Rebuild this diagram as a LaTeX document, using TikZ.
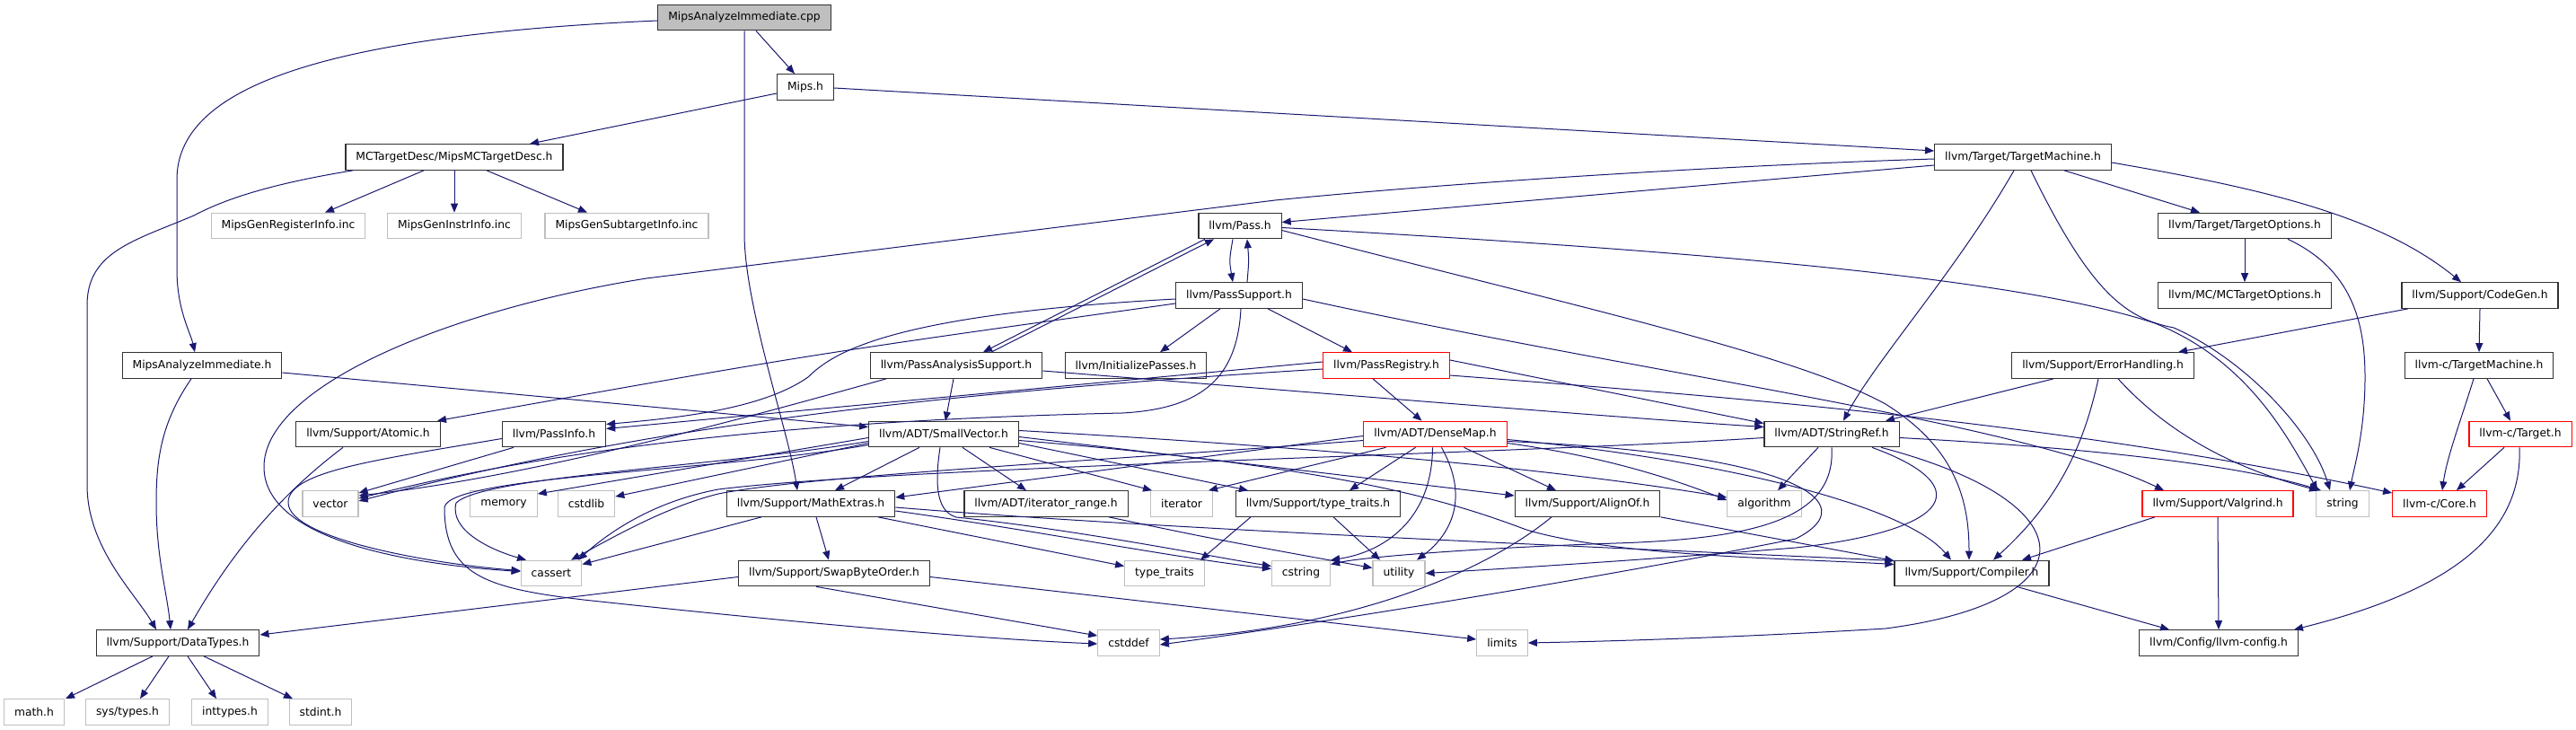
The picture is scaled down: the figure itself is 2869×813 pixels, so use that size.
\documentclass[tikz,border=0pt]{standalone}
\usepackage{fontspec}
\setmainfont{DejaVu Sans}
\usetikzlibrary{arrows.meta}
\definecolor{edgeblue}{RGB}{25,25,112}
\definecolor{grey75}{RGB}{191,191,191}
\definecolor{boxline}{RGB}{50,50,50}

\begin{document}
\begin{tikzpicture}[x=1pt, y=-1pt,
    every node/.style={draw=boxline, rectangle, fill=white, line width=1.2pt, minimum height=28.5pt,
        inner xsep=11.5pt, inner ysep=0pt, font=\fontsize{12.3}{14}\selectfont},
    sys/.style={draw=grey75},
    trunc/.style={draw=red},
    root/.style={fill=grey75},
    arrow/.style={-{Triangle[length=10pt,width=8pt]}, draw=edgeblue, line width=1pt}
]
\useasboundingbox (0,0) rectangle (2869,813);

% Posiciones de los nodos
\node[root] (cpp) at (829,19.5) {MipsAnalyzeImmediate.cpp};
\node (mips) at (897,97) {Mips.h};
\node (mcdesc) at (506,175) {MCTargetDesc/MipsMCTargetDesc.h};
\node (tm) at (2253,175) {llvm/Target/TargetMachine.h};
\node[sys] (reginfo) at (321,251.5) {MipsGenRegisterInfo.inc};
\node[sys] (instrinfo) at (506,251.5) {MipsGenInstrInfo.inc};
\node[sys] (subinfo) at (698,251.5) {MipsGenSubtargetInfo.inc};
\node (pass) at (1381,251.5) {llvm/Pass.h};
\node (topt) at (2500,251.5) {llvm/Target/TargetOptions.h};
\node (passsup) at (1380,329) {llvm/PassSupport.h};
\node (mcopt) at (2500,329) {llvm/MC/MCTargetOptions.h};
\node (codegen) at (2762,329) {llvm/Support/CodeGen.h};
\node (aih) at (225,407) {MipsAnalyzeImmediate.h};
\node (pas) at (1065,407) {llvm/PassAnalysisSupport.h};
\node (initp) at (1265,407) {llvm/InitializePasses.h};
\node[trunc] (preg) at (1544,407) {llvm/PassRegistry.h};
\node (errh) at (2342,407) {llvm/Support/ErrorHandling.h};
\node (ctm) at (2761,407) {llvm-c/TargetMachine.h};
\node (atomic) at (410,483.5) {llvm/Support/Atomic.h};
\node (passinfo) at (617,483.5) {llvm/PassInfo.h};
\node (smallvec) at (1051,483.5) {llvm/ADT/SmallVector.h};
\node[trunc] (densemap) at (1598.5,483.5) {llvm/ADT/DenseMap.h};
\node (strref) at (2040,483.5) {llvm/ADT/StringRef.h};
\node[trunc] (ctarget) at (2807,483.5) {llvm-c/Target.h};
\node[sys] (vector) at (368,561) {vector};
\node[sys] (memory) at (561,561) {memory};
\node[sys] (cstdlib) at (653,561) {cstdlib};
\node (mathex) at (903,561) {llvm/Support/MathExtras.h};
\node (iterrange) at (1165,561) {llvm/ADT/iterator\_range.h};
\node[sys] (iterator) at (1316,561) {iterator};
\node (stypetraits) at (1468,561) {llvm/Support/type\_traits.h};
\node (alignof) at (1768,561) {llvm/Support/AlignOf.h};
\node[sys] (algorithm) at (1965,561) {algorithm};
\node[trunc] (valgrind) at (2470,561) {llvm/Support/Valgrind.h};
\node[sys] (string) at (2609,561) {string};
\node[trunc] (ccore) at (2717,561) {llvm-c/Core.h};
\node[sys] (cassert) at (614,638.5) {cassert};
\node (swapbo) at (929,638.5) {llvm/Support/SwapByteOrder.h};
\node[sys] (typetraits) at (1297,638.5) {type\_traits};
\node[sys] (cstring) at (1449,638.5) {cstring};
\node[sys] (utility) at (1558,638.5) {utility};
\node (compiler) at (2196,638.5) {llvm/Support/Compiler.h};
\node (datatypes) at (198,716) {llvm/Support/DataTypes.h};
\node[sys] (cstddef) at (1257,716) {cstddef};
\node[sys] (limits) at (1673,716) {limits};
\node (llvmconfig) at (2471,716) {llvm/Config/llvm-config.h};
\node[sys] (mathh) at (38,793) {math.h};
\node[sys] (systypes) at (142,793) {sys/types.h};
\node[sys] (inttypes) at (256,793) {inttypes.h};
\node[sys] (stdint) at (357,793) {stdint.h};

% Flechas
\draw[arrow] ([xshift=13pt]cpp.south) -- ([xshift=-12pt]mips.north);
\draw[arrow] ([yshift=-3.5pt]cpp.west) .. controls (350,40) and (197,100) .. (197,200) -- (197,300)
    .. controls (197,345) and (212,370) .. ([xshift=-8pt]aih.north);
\draw[arrow] (cpp.south) -- (829,260) .. controls (829,340) and (878,480) .. ([xshift=-15pt]mathex.north);

\draw[arrow] ([yshift=-7pt]mips.west) -- ([xshift=84pt]mcdesc.north);
\draw[arrow] ([yshift=-1pt]mips.east) -- ([yshift=7pt]tm.west);

\draw[arrow] ([xshift=-34pt]mcdesc.south) -- ([xshift=41pt]reginfo.north);
\draw[arrow] (mcdesc.south) -- (instrinfo.north);
\draw[arrow] ([xshift=36pt]mcdesc.south) -- ([xshift=-44pt]subinfo.north);
\draw[arrow] ([xshift=-113pt]mcdesc.south) .. controls (300,205) and (250,222) .. (216,240)
    .. controls (150,268) and (97,280) .. (97,340) -- (97,540)
    .. controls (97,610) and (150,660) .. ([xshift=-24pt]datatypes.north);

\draw[arrow] ([xshift=-12pt]aih.south) .. controls (180,470) and (174,510) .. (174,560)
    .. controls (174,620) and (186,660) .. ([xshift=-8pt]datatypes.north);
\draw[arrow] ([yshift=-8pt]aih.east) -- ([yshift=8pt]smallvec.west);

\draw[arrow] ([yshift=-9pt]tm.west) -- ([yshift=4pt]pass.east);
\draw[arrow] ([yshift=-2pt]tm.west) .. controls (1900,185) and (1600,205) .. (1420,223) -- (720,310)
    .. controls (500,345) and (294,430) .. (294,520)
    .. controls (294,600) and (450,628) .. ([yshift=2pt]cassert.west);
\draw[arrow] ([xshift=46pt]tm.south) -- ([xshift=-50pt]topt.north);
\draw[arrow] ([yshift=-6pt]tm.east) .. controls (2520,210) and (2650,240) .. ([xshift=-21pt]codegen.north);
\draw[arrow] ([xshift=-10pt]tm.south) .. controls (2180,300) and (2090,400) .. ([xshift=13pt]strref.north);
\draw[arrow] ([xshift=9pt]tm.south) .. controls (2330,330) and (2370,355) .. (2421,365)
    .. controls (2500,400) and (2575,480) .. ([xshift=-14pt]string.north);

\draw[arrow] (topt.south) -- (mcopt.north);
\draw[arrow] ([xshift=48pt]topt.south) .. controls (2620,300) and (2634,360) .. (2634,420)
    .. controls (2634,480) and (2622,520) .. ([xshift=8pt]string.north);

\draw[arrow] ([xshift=-80pt]codegen.south) -- ([xshift=84pt]errh.north);
\draw[arrow] (codegen.south) -- (ctm.north);

\draw[arrow] ([xshift=9pt]ctm.south) -- ([xshift=-11pt]ctarget.north);
\draw[arrow] ([xshift=-6pt]ctm.south) .. controls (2740,470) and (2725,510) .. ([xshift=3pt]ccore.north);
\draw[arrow] ([xshift=-18pt]ctarget.south) -- ([xshift=19pt]ccore.north);
\draw[arrow] ([xshift=-1pt]ctarget.south) .. controls (2810,600) and (2720,660) .. ([xshift=84pt]llvmconfig.north);

\draw[arrow] ([xshift=-55pt]errh.south) -- ([xshift=60pt]strref.north);
\draw[arrow] ([xshift=-5pt]errh.south) .. controls (2320,500) and (2290,560) .. ([xshift=24pt]compiler.north);
\draw[arrow] ([xshift=17pt]errh.south) .. controls (2430,500) and (2520,530) .. ([xshift=-27pt]string.north);

\draw[arrow] ([xshift=-8pt]pass.south) .. controls (1369,290) .. ([xshift=-7pt]passsup.north);
\draw[arrow] ([xshift=9pt]passsup.north) .. controls (1391,290) .. ([xshift=8pt]pass.south);
\draw[arrow] ([xshift=-39pt]pass.south) -- ([xshift=30pt]pas.north);
\draw[arrow] ([xshift=39pt]pas.north) -- ([xshift=-29pt]pass.south);
\draw[arrow] ([yshift=-2pt]pass.east) .. controls (1900,280) and (2250,310) .. (2400,360)
    .. controls (2500,400) and (2545,480) .. ([xshift=-28pt]string.north);
\draw[arrow] ([yshift=-5pt]pass.east) .. controls (1750,340) and (2000,395) .. (2100,450)
    .. controls (2180,500) and (2193,560) .. ([xshift=-3pt]compiler.north);

\draw[arrow] ([xshift=-21pt]passsup.south) -- ([xshift=27pt]initp.north);
\draw[arrow] ([xshift=32pt]passsup.south) -- ([xshift=-38pt]preg.north);
\draw[arrow] ([yshift=-4pt]passsup.east) .. controls (1850,420) and (2250,470) .. ([xshift=-60pt]valgrind.north);
\draw[arrow] ([yshift=-9pt]passsup.west) .. controls (900,395) .. ([xshift=77pt]atomic.north);
\draw[arrow] ([yshift=-4pt]passsup.west) .. controls (1000,350) and (930,390) .. (900,420)
    .. controls (850,455) and (760,465) .. ([yshift=11pt]passinfo.east);
\draw[arrow] ([xshift=2pt]passsup.south) .. controls (1378,420) and (1340,455) .. (1250,460)
    .. controls (800,470) and (560,515) .. ([yshift=6pt]vector.east);

\draw[arrow] ([xshift=-3pt]pas.south) -- ([xshift=2pt]smallvec.north);
\draw[arrow] ([yshift=-6pt]pas.east) .. controls (1500,440) and (1800,465) .. ([yshift=8pt]strref.west);
\draw[arrow] ([xshift=-78pt]pas.south) .. controls (850,460) and (600,530) .. ([yshift=9pt]vector.east);

\draw[arrow] ([yshift=4pt]preg.west) -- ([yshift=6pt]passinfo.east);
\draw[arrow] ([yshift=-4pt]preg.west) .. controls (1000,440) and (700,480) .. ([yshift=3pt]vector.east);
\draw[arrow] ([xshift=-15pt]preg.south) -- ([xshift=-15pt]densemap.north);
\draw[arrow] ([yshift=6pt]preg.east) -- ([yshift=12pt]strref.west);
\draw[arrow] ([yshift=-11pt]preg.east) .. controls (1900,440) and (2300,470) .. ([yshift=12pt]ccore.west);

\draw[arrow] ([xshift=-28pt]atomic.south) .. controls (300,560) and (250,630) .. ([xshift=11pt]datatypes.north);

\draw[arrow] ([xshift=-45pt]passinfo.south) -- ([yshift=12pt]vector.east);
\draw[arrow] ([yshift=-5pt]passinfo.west) .. controls (420,512) and (320,525) .. (321,560)
    .. controls (322,600) and (480,628) .. ([yshift=3pt]cassert.west);

\draw[arrow] ([xshift=-27pt]smallvec.south) -- ([xshift=27pt]mathex.north);
\draw[arrow] ([xshift=21pt]smallvec.south) -- ([xshift=-22pt]iterrange.north);
\draw[arrow] ([xshift=51pt]smallvec.south) -- ([xshift=-33pt]iterator.north);
\draw[arrow] ([yshift=-10pt]smallvec.east) -- ([xshift=-78pt]stypetraits.north);
\draw[arrow] ([yshift=-3pt]smallvec.east) -- ([yshift=9pt]alignof.west);
\draw[arrow] ([yshift=4pt]smallvec.east) .. controls (1500,500) and (1750,525) .. ([yshift=7pt]algorithm.west);
\draw[arrow] ([yshift=-7pt]smallvec.east) .. controls (1500,520) and (1620,560) .. (1700,590)
    .. controls (1800,620) and (2000,622) .. ([yshift=10pt]compiler.west);
\draw[arrow] ([yshift=-8pt]smallvec.west) .. controls (800,520) and (540,530) .. (508,560)
    .. controls (500,590) and (545,612) .. ([xshift=-28pt]cassert.north);
\draw[arrow] ([yshift=-12pt]smallvec.west) .. controls (800,525) and (500,530) .. (495,565)
    .. controls (495,640) and (540,655) .. (650,668)
    .. controls (900,695) and (1100,712) .. ([yshift=-1pt]cstddef.west);
\draw[arrow] ([yshift=-4pt]smallvec.west) -- ([yshift=11pt]memory.east);
\draw[arrow] ([yshift=-10pt]smallvec.west) -- ([yshift=8pt]cstdlib.east);
\draw[arrow] ([xshift=-4pt]smallvec.south) .. controls (1040,545) and (1045,570) .. (1065,576)
    .. controls (1200,590) and (1350,620) .. ([yshift=8pt]cstring.west);

\draw[arrow] ([xshift=6pt]mathex.south) -- ([xshift=-6pt]swapbo.north);
\draw[arrow] ([xshift=75pt]mathex.south) -- ([yshift=8pt]typetraits.west);
\draw[arrow] ([xshift=-55pt]mathex.south) -- ([yshift=10pt]cassert.east);
\draw[arrow] ([yshift=-4pt]mathex.east) .. controls (1300,590) and (1800,610) .. ([yshift=14pt]compiler.west);
\draw[arrow] ([yshift=-8pt]mathex.east) .. controls (1150,590) and (1300,620) .. ([yshift=5pt]cstring.west);

\draw[arrow] ([yshift=-4pt]swapbo.west) -- ([yshift=9pt]datatypes.east);
\draw[arrow] ([xshift=-20pt]swapbo.south) -- ([yshift=8pt]cstddef.west);
\draw[arrow] ([yshift=-4pt]swapbo.east) -- ([yshift=4pt]limits.west);

\draw[arrow] ([xshift=-22pt]densemap.south) -- ([xshift=35pt]stypetraits.north);
\draw[arrow] ([xshift=32pt]densemap.south) -- ([xshift=-35pt]alignof.north);
\draw[arrow] ([xshift=-3pt]densemap.south) .. controls (1595,580) and (1540,615) .. (cstring.north east);
\draw[arrow] ([xshift=7pt]densemap.south) .. controls (1640,560) and (1610,600) .. ([xshift=20pt]utility.north);
\draw[arrow] ([yshift=-2pt]densemap.west) -- ([yshift=7pt]mathex.east);
\draw[arrow] ([xshift=-55pt]densemap.south) -- ([xshift=30pt]iterator.north);
\draw[arrow] ([yshift=-10pt]densemap.east) .. controls (1800,510) and (1880,540) .. ([yshift=4pt]algorithm.west);
\draw[arrow] ([yshift=-7pt]densemap.west) .. controls (1200,515) and (900,530) .. (800,550)
    .. controls (740,565) and (680,600) .. ([xshift=22pt]cassert.north);
\draw[arrow] ([yshift=-6pt]densemap.east) .. controls (1900,510) and (2120,560) .. ([xshift=-23pt]compiler.north);
\draw[arrow] ([yshift=-8pt]densemap.east) .. controls (2000,505) and (2080,560) .. (2000,600)
    .. controls (1800,640) and (1500,690) .. ([yshift=-2pt]cstddef.east);

\draw[arrow] ([xshift=-15pt]strref.south) -- ([xshift=15pt]algorithm.north);
\draw[arrow] ([yshift=-4pt]strref.west) .. controls (1700,505) and (1000,520) .. (800,545)
    .. controls (720,560) and (670,600) .. ([xshift=30pt]cassert.north);
\draw[arrow] (strref.south) .. controls (2045,580) and (1950,600) .. (1800,605)
    .. controls (1650,610) and (1520,620) .. ([yshift=10pt]cstring.east);
\draw[arrow] ([xshift=45pt]strref.south) .. controls (2200,540) and (2180,590) .. (2000,610)
    .. controls (1850,622) and (1700,632) .. (utility.east);
\draw[arrow] ([xshift=55pt]strref.south) .. controls (2330,560) and (2330,670) .. (2100,700)
    .. controls (1900,712) and (1750,715) .. (limits.east);
\draw[arrow] ([yshift=-4pt]strref.east) .. controls (2350,500) and (2500,520) .. ([xshift=-24pt]string.north);

\draw[arrow] ([xshift=-75pt]stypetraits.south) -- ([xshift=40pt]typetraits.north);
\draw[arrow] ([xshift=17pt]stypetraits.south) -- ([xshift=-21pt]utility.north);
\draw[arrow] ([xshift=70pt]iterrange.south) .. controls (1350,600) .. ([yshift=6pt]utility.west);

\draw[arrow] (alignof.south east) -- ([yshift=14pt]compiler.west);
\draw[arrow] ([xshift=-40pt]alignof.south) .. controls (1650,640) and (1500,700) .. ([yshift=4pt]cstddef.east);

\draw[arrow] ([xshift=-70pt]valgrind.south) -- ([xshift=56pt]compiler.north);
\draw[arrow] (valgrind.south) -- (llvmconfig.north);
\draw[arrow] ([xshift=50pt]compiler.south) -- ([xshift=-55pt]llvmconfig.north);

\draw[arrow] ([xshift=-28pt]datatypes.south) -- ([xshift=35pt]mathh.north);
\draw[arrow] ([xshift=-10pt]datatypes.south) -- ([xshift=14pt]systypes.north);
\draw[arrow] ([xshift=11pt]datatypes.south) -- ([xshift=-15pt]inttypes.north);
\draw[arrow] ([xshift=29pt]datatypes.south) -- ([xshift=-31pt]stdint.north);

\end{tikzpicture}
\end{document}
